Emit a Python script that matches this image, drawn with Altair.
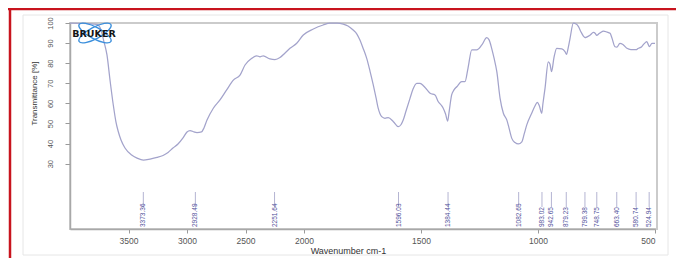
import altair as alt
import pandas as pd

# ---- spectrum (wavenumber cm-1, transmittance %) ----
wavenumber = [4000, 3900, 3800, 3769, 3735, 3709, 3684, 3658, 3630, 3607, 3587, 3564, 3530,
              3473, 3427, 3373, 3316, 3256, 3205, 3162, 3120, 3077, 3034, 3000, 2974, 2940,
              2915, 2876, 2855, 2829, 2775, 2718, 2661, 2604, 2547, 2504, 2447, 2404, 2376,
              2348, 2291, 2248, 2205, 2162, 2120, 2062, 2006, 1960, 1918, 1889, 1859, 1832,
              1812, 1790, 1774, 1761, 1748, 1732, 1718, 1704, 1692, 1683, 1668, 1654, 1640,
              1618, 1597, 1585, 1576, 1564, 1547, 1534, 1518, 1504, 1490, 1474, 1461, 1440,
              1426, 1414, 1405, 1395, 1386, 1380, 1369, 1359, 1347, 1326, 1312, 1299, 1283,
              1262, 1240, 1219, 1209, 1198, 1188, 1176, 1162, 1148, 1133, 1124, 1112, 1098,
              1084, 1069, 1059, 1048, 1027, 1013, 1003, 994, 984, 979, 970, 956, 949, 942,
              932, 920, 898, 884, 878, 871, 863, 849, 837, 827, 816, 806, 799, 790, 778,
              763, 755, 749, 740, 731, 721, 705, 692, 684, 671, 663, 650, 637, 620, 603,
              586, 580, 573, 557, 547, 535, 530, 524, 513, 500]
transmittance = [99.9, 99.8, 99.5, 99.3, 96.5, 90.5, 84.1, 71.6, 59.2, 50.7, 45.9, 41.8, 37.8,
                 34.3, 32.8, 31.8, 32.3, 33.1, 34.1, 35.6, 37.8, 39.8, 42.8, 45.8, 46.5, 45.8,
                 45.5, 45.8, 47.8, 51.7, 57.6, 61.7, 66.7, 71.6, 74.1, 79.1, 82.4, 83.7, 83.2,
                 83.7, 82.1, 81.8, 82.8, 85.1, 87.4, 89.9, 94.0, 97.0, 99.0, 99.9, 99.9, 99.4,
                 98.5, 96.5, 94.5, 91.5, 87.6, 82.4, 76.1, 69.2, 62.7, 57.6, 53.4, 52.6, 52.9,
                 50.9, 48.4, 49.5, 51.7, 56.2, 62.5, 67.2, 70.0, 69.9, 68.8, 66.7, 65.0, 64.2,
                 60.8, 59.2, 57.6, 54.7, 51.2, 55.7, 64.2, 66.7, 68.3, 70.8, 70.8, 77.6, 86.6,
                 86.6, 89.1, 92.7, 91.6, 87.4, 82.6, 75.8, 62.5, 55.1, 51.7, 47.8, 42.6, 40.5,
                 39.8, 40.9, 44.8, 49.3, 55.1, 58.7, 60.5, 58.7, 55.1, 59.8, 67.5, 80.7, 79.6,
                 75.8, 82.6, 87.4, 87.1, 85.6, 84.4, 87.6, 92.4, 99.9, 99.5, 98.2, 95.5, 93.5,
                 92.7, 93.1, 93.9, 95.3, 94.8, 93.8, 94.6, 95.4, 96.0, 95.5, 94.9, 92.5, 88.2,
                 88.0, 89.9, 89.3, 87.4, 86.8, 86.8, 86.7, 87.3, 88.2, 89.6, 90.7, 89.6, 88.2,
                 89.9, 89.9]

# ---- picked peaks ----
peak_wn = [3373.36, 2928.49, 2251.64, 1596.03, 1384.44, 1082.65, 983.02, 942.65,
           879.23, 799.38, 748.75, 663.40, 580.74, 524.94]
peak_label = [f"{p:.2f}" for p in peak_wn]

x_ticks = [3500, 3000, 2500, 2000, 1500, 1000, 500]
y_ticks = [30, 40, 50, 60, 70, 80, 90, 100]

W, H = 587, 206
spec = pd.DataFrame({"wn": wavenumber, "t": transmittance})
peaks = pd.DataFrame({"wn": peak_wn, "lbl": peak_label})
one = pd.DataFrame({"k": [0]})

FONT = "Liberation Sans, Arial, sans-serif"
NARROW = "'Liberation Sans Narrow', 'Arial Narrow', 'Liberation Sans', sans-serif"

xscale = alt.Scale(domain=[4000, 2000, 500], range=[0, 234, 585], nice=False, zero=False)
yscale = alt.Scale(domain=[-2.5, 100], nice=False, zero=False)

xaxis = alt.Axis(values=x_ticks, format="d", title="Wavenumber cm-1", grid=False,
                 tickSize=4, tickColor="#9a9a9a", domainColor="#a8a8a8", domainWidth=1.5,
                 labelFont=FONT, labelFontSize=8.5, labelColor="#555555", labelPadding=3,
                 titleFont=FONT, titleFontSize=9, titleFontWeight="normal", titleColor="#333333",
                 titleX=278, titleY=17, titleBaseline="top", titleAnchor="middle")
yaxis = alt.Axis(values=y_ticks, title="Transmittance [%]", grid=False,
                 tickSize=5, tickColor="#9a9a9a", domainColor="#a8a8a8", domainWidth=1.5,
                 labelFont=NARROW, labelFontSize=7.5, labelColor="#555555", labelAngle=270,
                 labelAlign="center", labelBaseline="bottom", labelPadding=11,
                 titleFont=FONT, titleFontSize=8, titleFontWeight="normal", titleColor="#333333",
                 titleAngle=270, titleX=-36, titleY=70, titleBaseline="middle", titleAlign="center")

line = alt.Chart(spec).mark_line(color="#a3a3cb", strokeWidth=1.25, interpolate="monotone").encode(
    x=alt.X("wn:Q", scale=xscale, axis=xaxis),
    y=alt.Y("t:Q", scale=yscale, axis=yaxis),
)

peak_rules = alt.Chart(peaks).mark_rule(color="#b4b4d2", strokeWidth=1).encode(
    x=alt.X("wn:Q", scale=xscale), y=alt.value(169), y2=alt.value(184))

peak_text = alt.Chart(peaks).mark_text(angle=270, align="left", baseline="middle",
                                       font=NARROW, fontSize=6.5, color="#50509a").encode(
    x=alt.X("wn:Q", scale=xscale), y=alt.value(204), text="lbl:N")

# decorations: outer frames and BRUKER logo
outer = alt.Chart(one).mark_rect(fillOpacity=0, stroke="#e6e6e6", strokeWidth=1).encode(
    x=alt.value(-47), x2=alt.value(598), y=alt.value(-8), y2=alt.value(232))
red_top = alt.Chart(one).mark_rule(color="#c8141e", strokeWidth=2.5).encode(
    x=alt.value(-62), x2=alt.value(606), y=alt.value(-14))
red_left = alt.Chart(one).mark_rule(color="#c8141e", strokeWidth=2.5).encode(
    x=alt.value(-60), y=alt.value(-15), y2=alt.value(240))

ellipse = "M-1,0 A1,0.32 0 1,1 1,0 A1,0.32 0 1,1 -1,0 Z"
logo1 = alt.Chart(one).mark_point(shape=ellipse, size=1300, filled=False, stroke="#3b8fdc",
                                  strokeWidth=1.4, angle=28, opacity=1).encode(
    x=alt.value(25), y=alt.value(10))
logo2 = alt.Chart(one).mark_point(shape=ellipse, size=1300, filled=False, stroke="#3b8fdc",
                                  strokeWidth=1.4, angle=332, opacity=1).encode(
    x=alt.value(25), y=alt.value(10))
brand = alt.Chart(one).mark_text(text="BRUKER", font="DejaVu Sans", fontWeight="bold",
                                 fontSize=9.5, color="#151515").encode(
    x=alt.value(24), y=alt.value(11))

chart = alt.layer(outer, red_top, red_left, line, peak_rules, peak_text, logo1, logo2, brand).properties(
    width=W, height=H,
    autosize=alt.AutoSizeParams(type="none"),
    padding={"left": 62, "top": 15, "right": 19, "bottom": 29},
    background="white",
).configure_view(stroke="#cbcbcb", strokeWidth=2)

chart.save("out.html", embed_options={"renderer": "svg", "actions": False})
